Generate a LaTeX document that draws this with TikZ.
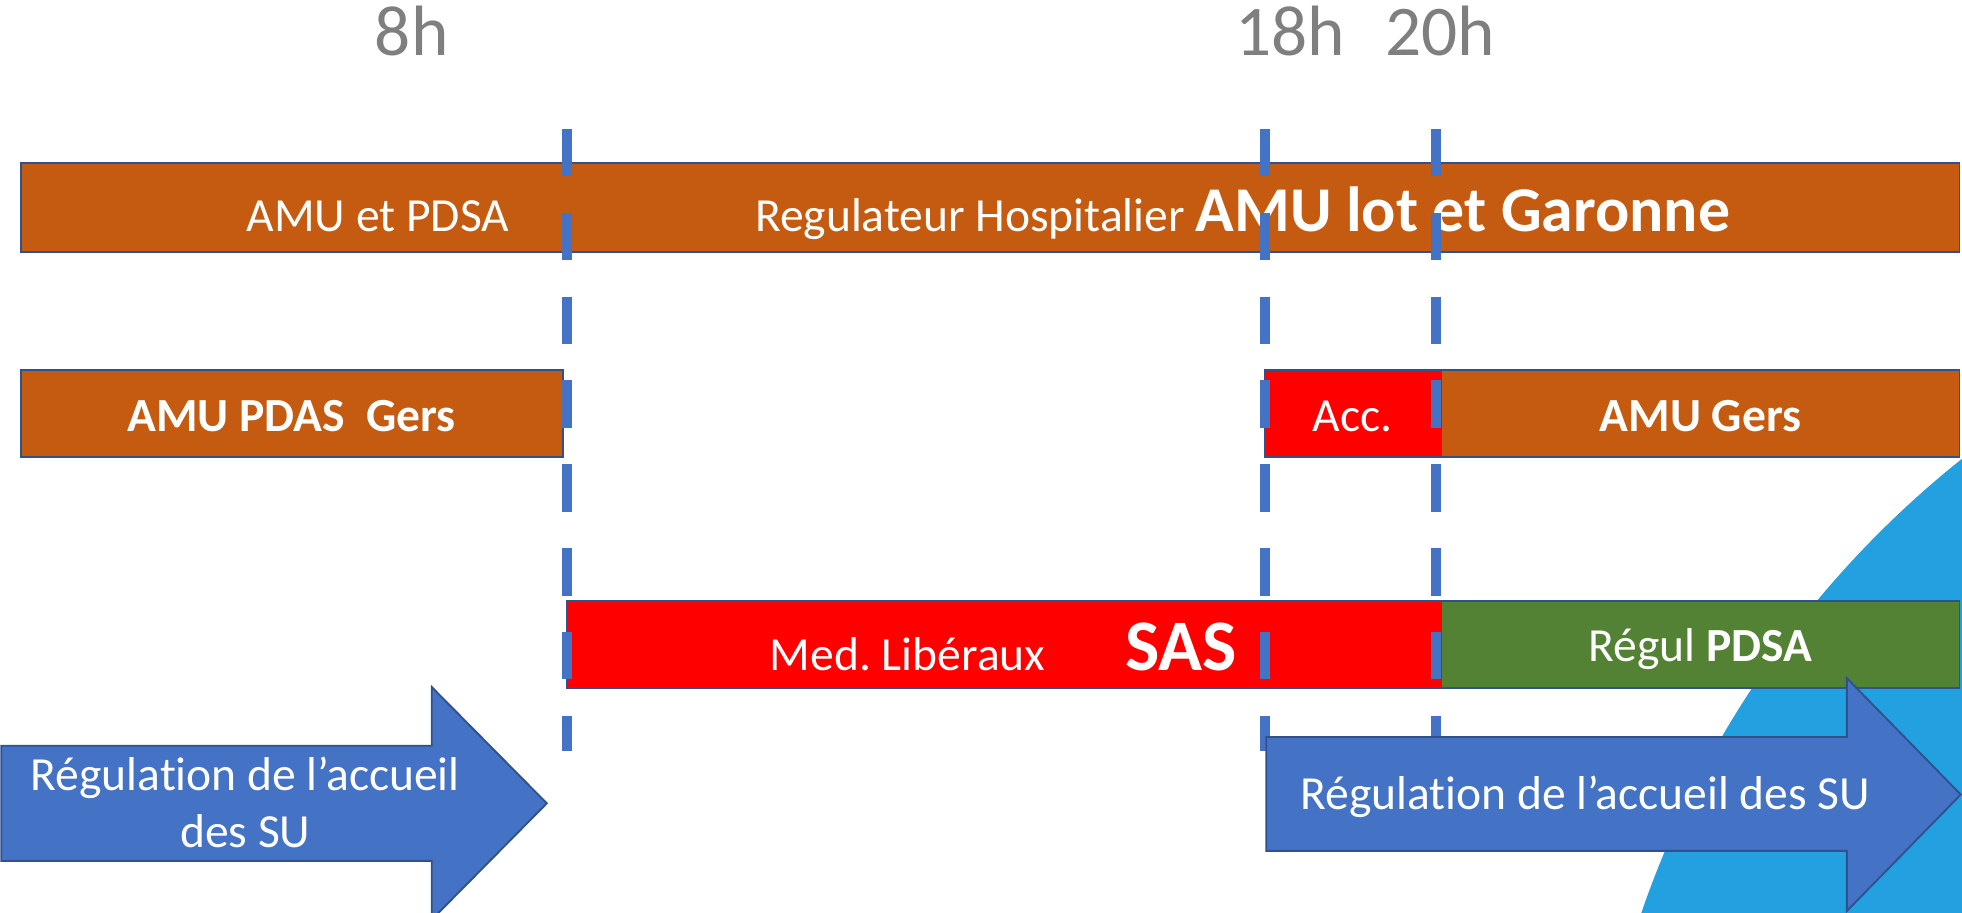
\documentclass[tikz,border=0pt]{standalone}
\usepackage{fontspec}
\setmainfont{Carlito}[Ligatures={NoCommon}]
\frenchspacing
\definecolor{barorange}{HTML}{C55A11}
\definecolor{barred}{HTML}{FF0000}
\definecolor{bargreen}{HTML}{548235}
\definecolor{barline}{HTML}{2F528F}
\definecolor{arrowblue}{HTML}{4472C4}
\definecolor{skyblue}{HTML}{22A0E0}
\definecolor{timegray}{HTML}{7F7F7F}
\newcommand\fsreg{\fontsize{38pt}{45pt}\selectfont}
\newcommand\fsbigb{\fontsize{51pt}{60pt}\selectfont\bfseries}
\newcommand\fssas{\fontsize{58pt}{66pt}\selectfont\bfseries}
\newcommand\fstime{\fontsize{57pt}{66pt}\selectfont}
\begin{document}
\begin{tikzpicture}[x=1pt,y=-1pt,
  bar/.style={draw=barline, line width=1.5pt, inner sep=0pt},
  lbl/.style={text=white, inner sep=0pt, anchor=base, font=\fsreg},
  tlabel/.style={text=timegray, inner sep=0pt, anchor=base, font=\fstime},
  vline/.style={draw=arrowblue, line width=8pt, dash pattern=on 38pt off 29pt},
  bigarrow/.style={fill=arrowblue, draw=barline, line width=1.5pt, line join=miter}]
\useasboundingbox (0,0) rectangle (1568,729);
\begin{scope}
\clip (0,0) rectangle (1568,729);
\fill[skyblue] (2062,987) circle[radius=793pt];
\end{scope}
% time labels
\node[tlabel] (t8) at (329,44) {8h};
\node[tlabel] (t18) at (1031,44) {18h};
\node[tlabel] (t20) at (1151,44) {20h};
% bars
\node[bar, fill=barorange, minimum width=1549pt, minimum height=71pt] (top) at (791.5,166) {};
\node[bar, fill=barorange, minimum width=433pt, minimum height=69pt] (pdas) at (233.5,330.5) {};
\node[bar, fill=barred, minimum width=141pt, minimum height=69pt] (acc) at (1081.5,330.5) {};
\node[bar, fill=barorange, minimum width=414pt, minimum height=69pt] (gers) at (1359,330.5) {};
\node[bar, fill=barred, minimum width=699pt, minimum height=70pt] (sas) at (802.5,515) {};
\node[bar, fill=bargreen, minimum width=414pt, minimum height=70pt] (pdsa) at (1359,515) {};
% bar texts
\node[lbl] (tamu) at (302,185) {AMU et PDSA};
\node[lbl] (treg) at (993,185) {Regulateur Hospitalier {\fsbigb AMU lot et Garonne}};
\node[lbl, font=\fsreg\bfseries] (tpdas) at (233,345) {AMU PDAS\ \ Gers};
\node[lbl] (tacc) at (1081,345) {Acc.};
\node[lbl, font=\fsreg\bfseries] (tgers) at (1359,345) {AMU Gers};
\node[lbl] (tsas) at (802,536) {Med. Libéraux\hspace{64pt}{\fssas SAS}};
\node[lbl] (tpdsa) at (1359,529) {Régul {\bfseries PDSA}};
% dashed time lines
\coordinate (d1a) at (453,103); \coordinate (d1b) at (453,600);
\coordinate (d2a) at (1011,103); \coordinate (d2b) at (1011,600);
\coordinate (d3a) at (1148,103); \coordinate (d3b) at (1148,600);
\draw[vline] (d1a) -- (d1b);
\draw[vline] (d2a) -- (d2b);
\draw[vline] (d3a) -- (d3b);
% arrows
\draw[bigarrow] (1,596) -- (345,596) -- (345,549) -- (437,642) -- (345,735) -- (345,688) -- (1,688) -- cycle;
\draw[bigarrow] (1012,589) -- (1476,589) -- (1476,542) -- (1567,635) -- (1476,728) -- (1476,680) -- (1012,680) -- cycle;
\node[lbl] (la1) at (196,632) {Régulation de l’accueil};
\node[lbl] (la2) at (196,677) {des SU};
\node[lbl] (ra) at (1267,647) {Régulation de l’accueil des SU};
\end{tikzpicture}
\end{document}
